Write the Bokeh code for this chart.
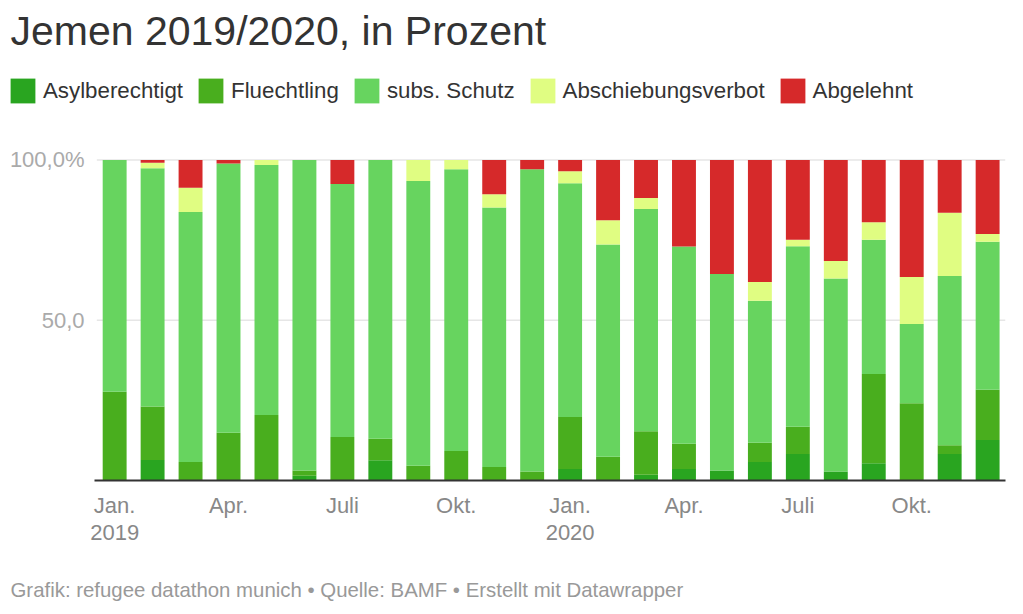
from bokeh.plotting import figure
from bokeh.models import ColumnDataSource, FixedTicker, Legend, LegendItem, Range1d, Title
from bokeh.embed import file_html
from bokeh.resources import INLINE

FONT = "Liberation Sans"

months = ["Jan 2019", "Feb 2019", "Mär 2019", "Apr 2019", "Mai 2019", "Jun 2019",
          "Jul 2019", "Aug 2019", "Sep 2019", "Okt 2019", "Nov 2019", "Dez 2019",
          "Jan 2020", "Feb 2020", "Mär 2020", "Apr 2020", "Mai 2020", "Jun 2020",
          "Jul 2020", "Aug 2020", "Sep 2020", "Okt 2020", "Nov 2020", "Dez 2020"]

asylberechtigt = [0, 6.4, 0, 0, 0, 1.5, 0, 6.3, 0, 0, 0, 0,
                  3.6, 0, 1.8, 3.6, 3.1, 5.8, 8.3, 2.8, 5.4, 0, 8.3, 12.6]
fluechtling = [27.7, 16.7, 5.8, 14.9, 20.4, 1.6, 13.6, 6.7, 4.6, 9.2, 4.2, 2.8,
               16.2, 7.4, 13.6, 7.9, 0, 6.0, 8.5, 0, 27.8, 24.1, 2.7, 15.7]
subs_schutz = [72.3, 74.3, 78.0, 84.0, 78.0, 96.9, 78.9, 87.0, 88.8, 87.9, 81.0, 94.3,
               72.9, 66.2, 69.3, 61.5, 61.3, 44.3, 56.3, 60.2, 41.9, 24.7, 52.8, 46.2]
abschiebungsverbot = [0, 1.7, 7.5, 0, 1.6, 0, 0, 0, 6.6, 2.9, 4.1, 0,
                      3.8, 7.6, 3.4, 0, 0, 5.8, 2.0, 5.5, 5.5, 14.7, 19.7, 2.4]
abgelehnt = [0, 0.9, 8.7, 1.1, 0, 0, 7.5, 0, 0, 0, 10.7, 2.9,
             3.5, 18.8, 11.9, 27.0, 35.6, 38.1, 24.9, 31.5, 19.4, 36.5, 16.5, 23.1]

series_names = ["Asylberechtigt", "Fluechtling", "subs. Schutz", "Abschiebungsverbot", "Abgelehnt"]
series_keys = ["asyl", "fluecht", "subs", "absch", "abgel"]
colors = ["#29a520", "#49ae1e", "#67d45f", "#e0fd82", "#d6292a"]

x_tick_pos = [0, 3, 6, 9, 12, 15, 18, 21]
x_tick_labels = ["Jan.\n2019", "Apr.", "Juli", "Okt.", "Jan.\n2020", "Apr.", "Juli", "Okt."]
y_tick_pos = [50, 100]
y_tick_labels = ["50,0", "100,0%"]

# layout constants (positions, not data)
X_START, X_END = -2.744, 23.471
GRID_X0 = -0.47
AXIS_X0 = -0.52

source = ColumnDataSource(dict(
    x=list(range(len(months))), month=months,
    asyl=asylberechtigt, fluecht=fluechtling, subs=subs_schutz,
    absch=abschiebungsverbot, abgel=abgelehnt,
))

p = figure(width=1010, height=603, output_backend="svg", toolbar_location=None,
           x_range=Range1d(X_START, X_END), y_range=Range1d(0, 130.4),
           min_border_left=0, min_border_right=5, min_border_top=0, min_border_bottom=0)
p.outline_line_color = None
p.background_fill_color = "white"
p.border_fill_color = "white"

# horizontal grid lines (start right of the tick labels)
p.segment(x0=[GRID_X0] * len(y_tick_pos), x1=[X_END] * len(y_tick_pos),
          y0=y_tick_pos, y1=y_tick_pos, line_color="#e6e6e6", line_width=1.5)

renderers = p.vbar_stack(series_keys, x="x", width=0.63, source=source,
                         color=colors, line_color=None)

# title
p.title.text = "Jemen 2019/2020, in Prozent"
p.title.text_font = FONT
p.title.text_font_size = "41px"
p.title.text_font_style = "normal"
p.title.text_color = "#333333"
p.title.align = "left"
p.title.vertical_align = "top"
p.title.standoff = 14
p.title.offset = 0

# x axis
xa = p.xaxis[0]
xa.ticker = FixedTicker(ticks=x_tick_pos)
xa.major_label_overrides = {t: l for t, l in zip(x_tick_pos, x_tick_labels)}
xa.major_label_text_font = FONT
xa.major_label_text_font_size = "22px"
xa.major_label_text_color = "#888888"
xa.major_label_text_line_height = 1.1
xa.axis_line_color = "#333333"
xa.axis_line_width = 2
xa.major_tick_line_color = None
xa.minor_tick_line_color = None
xa.major_label_standoff = 6
xa.bounds = (AXIS_X0, X_END)
xa.axis_label = " "
xa.axis_label_text_font_size = "1px"
xa.axis_label_standoff = 25

# y axis (labels right-aligned at x=84 px, inside the wide frame)
ya = p.yaxis[0]
ya.ticker = FixedTicker(ticks=y_tick_pos)
ya.major_label_overrides = {t: l for t, l in zip(y_tick_pos, y_tick_labels)}
ya.major_label_text_font = FONT
ya.major_label_text_font_size = "22px"
ya.major_label_text_color = "#aaaaaa"
ya.axis_line_color = None
ya.major_tick_line_color = None
ya.minor_tick_line_color = None
ya.major_tick_out = 0
ya.major_label_standoff = -74
ya.axis_label = " "
ya.axis_label_text_font_size = "1px"
ya.axis_label_standoff = 2

p.xgrid.grid_line_color = None
p.ygrid.grid_line_color = None

legend = Legend(items=[LegendItem(label=n, renderers=[r]) for n, r in zip(series_names, renderers)],
                orientation="horizontal", location=(-3, 374),
                glyph_width=31, glyph_height=31, label_standoff=5, spacing=12,
                padding=0, margin=0, border_line_color=None, background_fill_alpha=0,
                label_text_font=FONT, label_text_font_size="22.3px", label_text_color="#333333")
p.add_layout(legend, "center")

footer = Title(text="Grafik: refugee datathon munich \u2022 Quelle: BAMF \u2022 Erstellt mit Datawrapper",
               text_font=FONT, text_font_size="20.4px", text_font_style="normal",
               text_color="#999999", align="left", vertical_align="top", offset=0, standoff=2)
p.add_layout(footer, "below")

open("out.html", "w").write(file_html(p, INLINE))
